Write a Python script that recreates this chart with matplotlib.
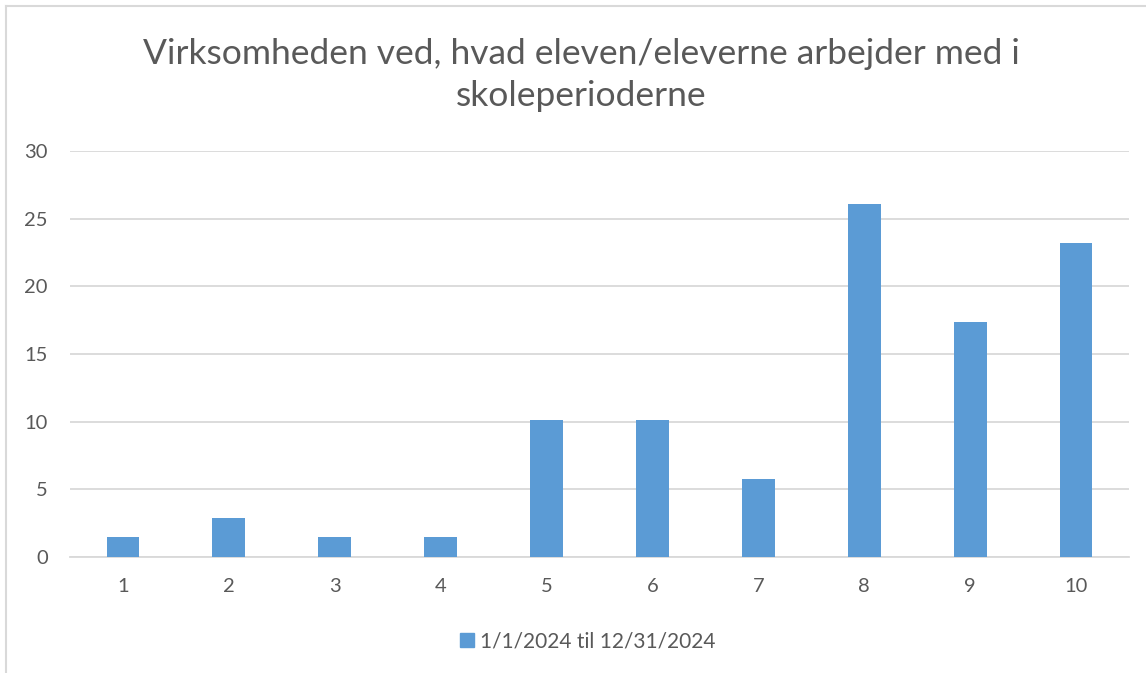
import matplotlib
matplotlib.use("Agg")
import matplotlib.pyplot as plt
from matplotlib.lines import Line2D

categories = ["1", "2", "3", "4", "5", "6", "7", "8", "9", "10"]
values = [1.45, 2.90, 1.45, 1.45, 10.14, 10.14, 5.80, 26.09, 17.39, 23.19]
series_name = "1/1/2024 til 12/31/2024"
title = "Virksomheden ved, hvad eleven/eleverne arbejder med i\nskoleperioderne"
yticks = [0, 5, 10, 15, 20, 25, 30]

plt.rcParams['font.family'] = ['Lato', 'DejaVu Sans']
W, H = 1146, 673
fig = plt.figure(figsize=(W / 100, H / 100), dpi=100)
ax = fig.add_axes([70 / W, 1 - 557 / H, (1129 - 70) / W, (557 - 151) / H])

text_col = "#595959"
grid_col = "#D9D9D9"
bar_col = "#5B9BD5"

x = list(range(len(categories)))
ax.bar(x, values, width=0.31, color=bar_col, zorder=3, label=series_name)
ax.set_xlim(-0.5, len(categories) - 0.5)
ax.set_ylim(0, 30)
ax.set_yticks(yticks)
ax.set_xticks(x)
ax.set_xticklabels(categories)
ax.yaxis.grid(True, color=grid_col, linewidth=1.3, zorder=0)
for s in ["top", "right", "left"]:
    ax.spines[s].set_visible(False)
ax.spines["bottom"].set_color(grid_col)
ax.spines["bottom"].set_linewidth(1.3)
ax.tick_params(axis="both", length=0, labelsize=14.5, colors=text_col)
ax.tick_params(axis="y", pad=16)
ax.tick_params(axis="x", pad=15)

fig.text(581 / W, 1 - 75 / H, title, ha="center", va="center", fontsize=25.5,
         color=text_col, linespacing=1.38)

handle = Line2D([], [], marker="s", linestyle="none", markersize=10, color=bar_col)
fig.legend([handle], [series_name], loc="center", bbox_to_anchor=(586 / W, 1 - 641 / H),
           frameon=False, fontsize=15, labelcolor=text_col, handletextpad=0.15,
           handlelength=1.0)

# chart border (light gray)
fig.add_artist(Line2D([6 / W, 6 / W], [0, 1 - 6 / H], color=grid_col, linewidth=1.5,
                      transform=fig.transFigure))
fig.add_artist(Line2D([6 / W, 1], [1 - 6 / H, 1 - 6 / H], color=grid_col, linewidth=1.5,
                      transform=fig.transFigure))

fig.savefig("out.png", dpi=100)
